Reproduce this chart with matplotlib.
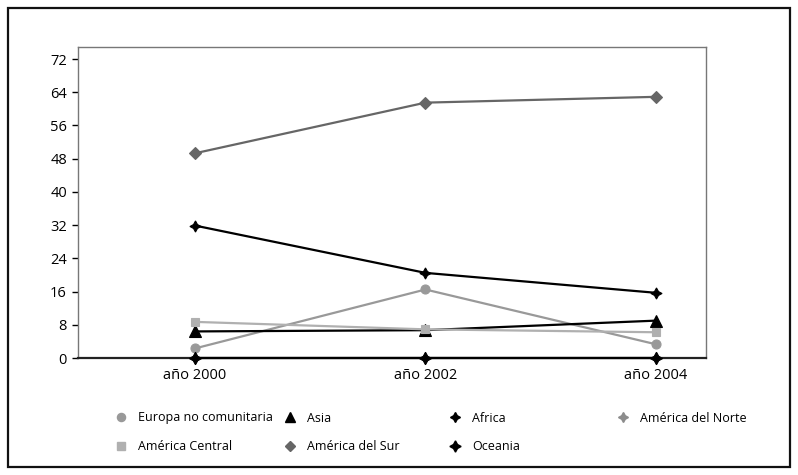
import matplotlib.pyplot as plt
from matplotlib.lines import Line2D
from matplotlib.patches import Rectangle

plt.rcParams['font.family'] = ['Open Sans', 'DejaVu Sans']

# categories
years = ['año 2000', 'año 2002', 'año 2004']

# series values
europa = [2.3, 16.5, 3.3]
asia = [6.4, 6.7, 9.0]
africa = [31.9, 20.5, 15.7]
america_norte = [0.0, 0.0, 0.0]
america_central = [8.7, 6.9, 6.2]
america_sur = [49.3, 61.5, 62.9]
oceania = [0.0, 0.0, 0.0]

y_ticks = [0, 8, 16, 24, 32, 40, 48, 56, 64, 72]

star4 = (4, 1, 0)

# name, data, color, marker, markersize
series = [
    ('Europa no comunitaria', europa, '#999999', 'o', 6.5),
    ('Asia', asia, '#000000', '^', 8),
    ('Africa', africa, '#000000', star4, 8),
    ('América del Norte', america_norte, '#8c8c8c', star4, 8),
    ('América Central', america_central, '#b0b0b0', 's', 6),
    ('América del Sur', america_sur, '#666666', 'D', 6),
    ('Oceania', oceania, '#000000', star4, 9),
]

fig = plt.figure(figsize=(7.98, 4.75), dpi=100)
ax = fig.add_axes([78 / 798, 1 - 358 / 475, (706 - 78) / 798, (358 - 47) / 475])

x = list(range(len(years)))
for name, data, color, marker, ms in series:
    ax.plot(x, data, color=color, marker=marker, markersize=ms,
            linewidth=1.6, markeredgewidth=0.8, markeredgecolor=color,
            clip_on=False, zorder=3)

ax.set_xlim(-0.507, 2.217)
ax.set_ylim(0, 74.9)
ax.set_yticks(y_ticks)
ax.set_xticks(x)
ax.set_xticklabels(years)
ax.tick_params(axis='y', direction='out', length=4, width=1, labelsize=10.5, pad=4)
ax.tick_params(axis='x', length=0, labelsize=10.5, pad=7)

for side in ['top', 'right', 'left']:
    ax.spines[side].set_color('#777777')
    ax.spines[side].set_linewidth(1)
ax.spines['bottom'].set_color('#222222')
ax.spines['bottom'].set_linewidth(1.6)

# legend: one entry per grid cell, like the original (marker centre positions)
col_x = [121, 290, 455, 623]
row_y = [418, 447]
for i, (name, data, color, marker, ms) in enumerate(series):
    r, c = divmod(i, 4)
    h = Line2D([], [], linestyle='none', marker=marker, color=color,
               markersize=ms * 0.9, markeredgecolor=color)
    fig.legend(handles=[h], labels=[name], loc='center left',
               bbox_to_anchor=((col_x[c] - 5) / 798, 1 - row_y[r] / 475),
               frameon=False, fontsize=9, handlelength=0.8,
               handletextpad=0.95, borderpad=0, borderaxespad=0)

# outer border
fig.patches.append(Rectangle((8 / 798, 8 / 475), (790 - 8) / 798, (467 - 8) / 475,
                             transform=fig.transFigure, fill=False,
                             edgecolor='#111111', linewidth=1.6))

fig.savefig('out.png', dpi=100)
